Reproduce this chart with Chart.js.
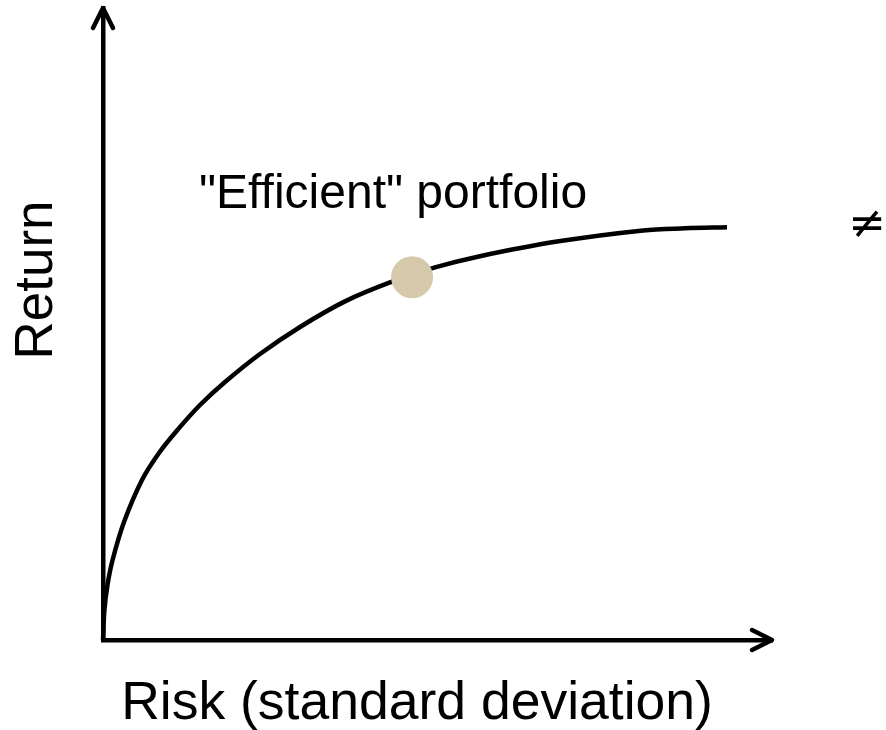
<!DOCTYPE html>
<html>
<head>
<meta charset="utf-8">
<script src="https://cdn.jsdelivr.net/npm/chart.js@4/dist/chart.umd.min.js"></script>
<style>
  html, body { margin: 0; padding: 0; background: #fff; }
  #wrap { width: 886px; height: 730px; }
</style>
</head>
<body>
<div id="wrap"><canvas id="chart1" width="886" height="730"></canvas></div>
<script>
// Frontier curve (risk on x, return on y)
const riskValues   = [0, 0.021, 0.067, 0.143, 0.314, 0.583, 0.837, 1.106, 1.450, 1.824, 2.347, 2.945, 3.617, 4.290, 4.963, 5.635, 6.786, 8.072, 8.700, 9.327];
const returnValues = [0, 0.475, 0.870, 1.266, 1.867, 2.532, 2.959, 3.315, 3.718, 4.082, 4.525, 4.953, 5.358, 5.658, 5.896, 6.073, 6.304, 6.481, 6.514, 6.530];

// The highlighted portfolio
const efficientRisk = [4.62];
const efficientReturn = [5.74];

// Axis limits and texts
const axisMax = [10, 10];
const xTitle = 'Risk (standard deviation)';
const yTitle = 'Return';
const pointLabel = '"Efficient" portfolio';
const strayMark = '\u2260';

const font = '"Liberation Sans", Arial, sans-serif';

// arrows on the axis ends + the texts
const axisExtras = {
    id: 'axisExtras',
    afterDraw(chart) {
        const ctx = chart.ctx;
        const area = chart.chartArea;
        ctx.save();
        ctx.strokeStyle = '#000';
        ctx.lineWidth = 4.5;
        ctx.lineCap = 'round';
        ctx.lineJoin = 'round';

        // up arrow
        ctx.beginPath();
        ctx.moveTo(area.left - 10, area.top + 20);
        ctx.lineTo(area.left, area.top);
        ctx.lineTo(area.left + 10, area.top + 20);
        ctx.stroke();

        // right arrow
        ctx.beginPath();
        ctx.moveTo(area.right - 20, area.bottom - 10);
        ctx.lineTo(area.right, area.bottom);
        ctx.lineTo(area.right - 20, area.bottom + 10);
        ctx.stroke();

        ctx.fillStyle = '#000';
        ctx.textAlign = 'center';
        ctx.textBaseline = 'alphabetic';

        // x title
        ctx.font = '53.5px ' + font;
        ctx.fillText(xTitle, 417, 719);

        // y title
        ctx.save();
        ctx.translate(52, 280);
        ctx.rotate(-Math.PI / 2);
        ctx.font = '53px ' + font;
        ctx.fillText(yTitle, 0, 0);
        ctx.restore();

        // label above the dot
        const px = chart.scales.x.getPixelForValue(efficientRisk[0]);
        const py = chart.scales.y.getPixelForValue(efficientReturn[0]);
        ctx.font = '48px ' + font;
        ctx.fillText(pointLabel, px - 19, py - 69);

        // the lone sign on the right
        ctx.font = '45px "DejaVu Sans", sans-serif';
        ctx.fillText(strayMark, 867, 238);

        ctx.restore();
    }
};

const myChart = new Chart(document.querySelector('#chart1'), {
    type: 'scatter',
    data: {
        datasets: [
            {
                // dot first so it sits on top of the curve
                data: efficientRisk.map((r, i) => ({ x: r, y: efficientReturn[i] })),
                pointRadius: 21,
                pointHoverRadius: 21,
                backgroundColor: '#d6c8ab',
                borderWidth: 0,
                clip: false
            },
            {
                data: riskValues.map((r, i) => ({ x: r, y: returnValues[i] })),
                showLine: true,
                tension: 0.35,
                borderColor: '#000',
                borderWidth: 4.5,
                pointRadius: 0,
                fill: false,
                clip: false
            }
        ]
    },
    options: {
        responsive: false,
        animation: false,
        events: [],
        layout: { autoPadding: false, padding: { left: 103, right: 114, top: 8, bottom: 90 } },
        plugins: { legend: { display: false }, tooltip: { enabled: false } },
        scales: {
            x: {
                min: 0, max: axisMax[0],
                grid: { display: false },
                ticks: { display: false },
                border: { display: true, color: '#000', width: 4.5 },
                afterFit: (scale) => { scale.height = 0; }
            },
            y: {
                min: 0, max: axisMax[1],
                grid: { display: false },
                ticks: { display: false },
                border: { display: true, color: '#000', width: 4.5 },
                afterFit: (scale) => { scale.width = 0; }
            }
        }
    },
    plugins: [axisExtras]
});
</script>
</body>
</html>
